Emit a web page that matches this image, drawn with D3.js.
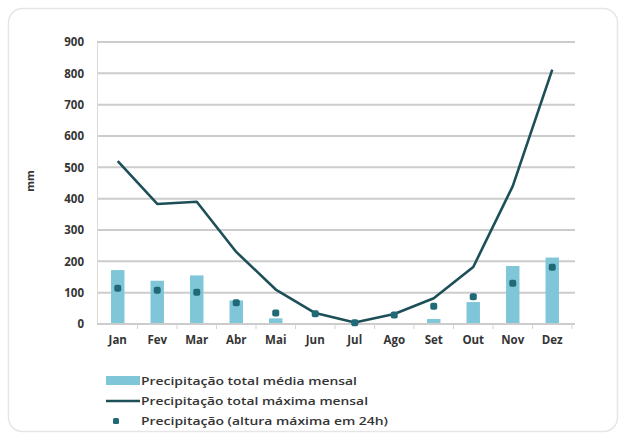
<!DOCTYPE html>
<html>
<head>
<meta charset="utf-8">
<script src="https://cdn.jsdelivr.net/npm/d3@7"></script>
<style>
  html, body { margin: 0; padding: 0; background: #ffffff; }
  svg { display: block; }
  text { font-family: "Open Sans", "Liberation Sans", sans-serif; }
</style>
</head>
<body>
<svg id="chart" width="624" height="439"></svg>
<script>
// Monthly precipitation (mm)
const months = ["Jan", "Fev", "Mar", "Abr", "Mai", "Jun", "Jul", "Ago", "Set", "Out", "Nov", "Dez"];
const mediaMensal = [172, 138, 155, 75, 18, 2, 0, 2, 16, 70, 185, 212];
const maximaMensal = [520, 383, 390, 230, 110, 35, 5, 32, 82, 182, 440, 812];
const maxima24h = [114, 108, 101, 68, 35, 33, 4, 29, 57, 87, 130, 181];
const yTicks = [0, 100, 200, 300, 400, 500, 600, 700, 800, 900];
const legendLabels = [
  "Precipitação total média mensal",
  "Precipitação total máxima mensal",
  "Precipitação (altura máxima em 24h)"
];

const barColor = "#7fc6d9";
const lineColor = "#1d4f58";
const dotColor = "#1f6a76";
const gridColor = "#cccccc";
const textColor = "#353535";

const svg = d3.select("#chart");

// card background
svg.append("rect")
  .attr("x", 8.5).attr("y", 8.5)
  .attr("width", 609).attr("height", 423)
  .attr("rx", 14)
  .attr("fill", "#ffffff")
  .attr("stroke", "#e6e6e6")
  .attr("stroke-width", 1.5);

const x = d3.scaleBand().domain(months).range([98, 572]).paddingInner(0.66).paddingOuter(0.33);
const xBand = d3.scaleBand().domain(months).range([98, 572]);
const y = d3.scaleLinear().domain([0, 900]).range([324, 42]);

// horizontal gridlines
svg.append("g")
  .selectAll("line")
  .data(yTicks.filter(d => d > 0))
  .join("line")
  .attr("x1", 97).attr("x2", 575)
  .attr("y1", d => y(d)).attr("y2", d => y(d))
  .attr("stroke", gridColor)
  .attr("stroke-width", 2);

// y axis
const yAxis = svg.append("g")
  .attr("transform", "translate(97,0)")
  .call(d3.axisLeft(y).tickValues(yTicks).tickSize(0).tickPadding(13));
yAxis.select(".domain").attr("stroke", "#dadada").attr("stroke-width", 1);
yAxis.selectAll("text")
  .attr("fill", textColor)
  .attr("font-size", 11.5)
  .attr("font-weight", "bold");

// bars: mean monthly total
svg.append("g")
  .selectAll("rect")
  .data(months.map((m, i) => ({ m, v: mediaMensal[i] })))
  .join("rect")
  .attr("x", d => x(d.m))
  .attr("width", x.bandwidth())
  .attr("y", d => y(d.v))
  .attr("height", d => y(0) - y(d.v))
  .attr("fill", barColor);

// x axis baseline with ticks at band boundaries
const xAxisG = svg.append("g").attr("transform", `translate(0,${y(0)})`);
xAxisG.append("line")
  .attr("x1", 97).attr("x2", 575)
  .attr("y1", 0).attr("y2", 0)
  .attr("stroke", gridColor).attr("stroke-width", 2);
xAxisG.selectAll("line.tick")
  .data(months.slice(1).concat(["__end"]))
  .join("line")
  .attr("class", "tick")
  .attr("x1", (d, i) => i < 11 ? xBand(d) : xBand.range()[1])
  .attr("x2", (d, i) => i < 11 ? xBand(d) : xBand.range()[1])
  .attr("y1", 0).attr("y2", 5)
  .attr("stroke", "#d2d2d2").attr("stroke-width", 1);
xAxisG.selectAll("text")
  .data(months)
  .join("text")
  .attr("x", d => xBand(d) + xBand.bandwidth() / 2)
  .attr("y", 20)
  .attr("text-anchor", "middle")
  .attr("fill", textColor)
  .attr("font-size", 11.5)
  .attr("font-weight", "bold")
  .text(d => d);

// line: maximum monthly total
const line = d3.line()
  .x((d, i) => xBand(months[i]) + xBand.bandwidth() / 2)
  .y(d => y(d));
svg.append("path")
  .datum(maximaMensal)
  .attr("d", line)
  .attr("fill", "none")
  .attr("stroke", lineColor)
  .attr("stroke-width", 2.6)
  .attr("stroke-linejoin", "round");

// dots: maximum height in 24h
svg.append("g")
  .selectAll("rect")
  .data(months.map((m, i) => ({ m, v: maxima24h[i] })))
  .join("rect")
  .attr("x", d => xBand(d.m) + xBand.bandwidth() / 2 - 3.5)
  .attr("y", d => y(d.v) - 3.5)
  .attr("width", 7).attr("height", 7)
  .attr("rx", 2)
  .attr("fill", dotColor);

// y axis title
svg.append("text")
  .attr("transform", "translate(34,181) rotate(-90)")
  .attr("text-anchor", "middle")
  .attr("fill", textColor)
  .attr("font-size", 11)
  .attr("font-weight", "bold")
  .text("mm");

// legend
const legend = svg.append("g");
legend.append("rect")
  .attr("x", 106).attr("y", 376).attr("width", 34).attr("height", 9)
  .attr("fill", barColor);
legend.append("line")
  .attr("x1", 106).attr("x2", 140).attr("y1", 401).attr("y2", 401)
  .attr("stroke", lineColor).attr("stroke-width", 2.6);
legend.append("rect")
  .attr("x", 113).attr("y", 418).attr("width", 6).attr("height", 6)
  .attr("rx", 1.5)
  .attr("fill", dotColor);
legend.selectAll("text")
  .data(legendLabels)
  .join("text")
  .attr("x", 141)
  .attr("y", (d, i) => 385 + i * 20)
  .attr("fill", textColor)
  .attr("font-size", 11.5)
  .attr("font-weight", "600")
  .attr("textLength", (d, i) => [216, 227, 247][i])
  .attr("lengthAdjust", "spacingAndGlyphs")
  .text(d => d);
</script>
</body>
</html>
